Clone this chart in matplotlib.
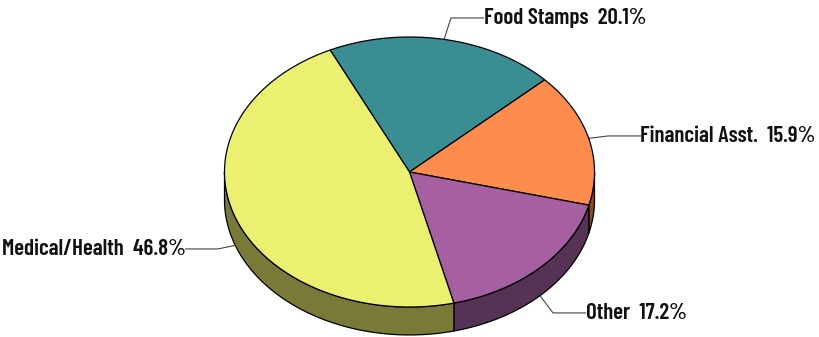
import matplotlib.pyplot as plt
import numpy as np

# Share of spending by program
programs = ["Food Stamps", "Financial Asst.", "Other", "Medical/Health"]
shares = [20.1, 15.9, 17.2, 46.8]

top_colors = ["#3a8d93", "#ff8c4f", "#a65fa0", "#ebf070"]
side_colors = ["#1f4d50", "#8a4a24", "#563354", "#7a7a38"]

# label layout: elbow of the leader line and text anchor (pie units)
elbows = [(0.224, 1.141), (1.073, 0.267), (0.776, -1.044), (-1.035, -0.570)]
text_pos = [(0.400, 1.141), (1.248, 0.267), (0.952, -1.044), (-1.210, -0.570)]
aligns = ["left", "left", "left", "right"]

start = 115.4
depth = 0.207

fig = plt.figure(figsize=(8.19, 3.37), dpi=100)
ax = fig.add_axes([0, 0, 1, 1])

# slice angles going clockwise from the start angle
ends = start - np.cumsum(shares) / 100 * 360
begins = np.concatenate([[start], ends[:-1]])

for i in range(len(shares)):
    # top face
    t = np.radians(np.linspace(ends[i], begins[i], 200))
    xs = np.concatenate([[0], np.cos(t)])
    ys = np.concatenate([[0], np.sin(t)])
    ax.fill(xs, ys, color=top_colors[i], ec="black", lw=0.9, zorder=3)

    # visible part of the rim (front half, -180..0 degrees)
    a0 = ends[i] % 360 - 360
    a1 = a0 + shares[i] / 100 * 360
    lo, hi = max(a0, -180), min(a1, 0)
    if lo < hi:
        t = np.radians(np.linspace(lo, hi, 200))
        xs = np.concatenate([np.cos(t), np.cos(t)[::-1]])
        ys = np.concatenate([np.sin(t), np.sin(t)[::-1] - depth])
        ax.fill(xs, ys, color=side_colors[i], ec="black", lw=0.9, zorder=2)

# leader lines and labels
for i in range(len(shares)):
    mid = np.radians((begins[i] + ends[i]) / 2)
    px, py = np.cos(mid), np.sin(mid)
    if py < 0:
        py -= depth
    ex, ey = elbows[i]
    tx, ty = text_pos[i]
    ax.plot([px, ex, tx], [py, ey, ty], color="#444444", lw=0.8, zorder=1)
    ax.text(tx, ty, f"{programs[i]}  {shares[i]:.1f}%", ha=aligns[i], va="center",
            fontsize=16.5, fontweight=600, family=["Barlow Condensed", "DejaVu Sans"],
            color="#111111")

ax.set_xlim(-409.5 / 185, (819 - 409.5) / 185)
ax.set_ylim(-(337 - 172) / 135, 172 / 135)
ax.axis("off")

fig.savefig("out.png", dpi=100)
